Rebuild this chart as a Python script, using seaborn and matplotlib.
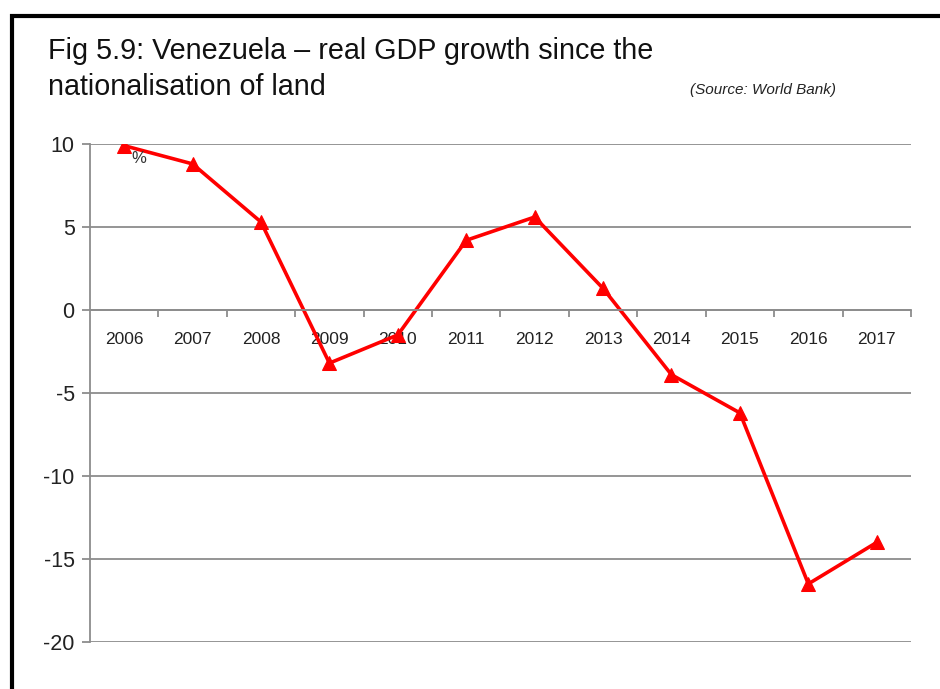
import matplotlib
matplotlib.use("Agg")
import matplotlib.pyplot as plt
from matplotlib.patches import Rectangle
from matplotlib.ticker import FixedLocator, NullFormatter
import seaborn as sns
import pandas as pd

# Annual real GDP growth, %
years = ["2006", "2007", "2008", "2009", "2010", "2011",
         "2012", "2013", "2014", "2015", "2016", "2017"]
growth = [9.9, 8.8, 5.3, -3.2, -1.5, 4.2, 5.6, 1.3, -3.9, -6.2, -16.5, -14.0]
y_ticks = [-20, -15, -10, -5, 0, 5, 10]

sns.set_theme(style="white")
plt.rcParams["font.family"] = ["Liberation Sans", "DejaVu Sans"]

df = pd.DataFrame({"year": years, "growth": growth})

fig = plt.figure(figsize=(9.4, 6.89), dpi=100)
ax = fig.add_axes([0.0957, 0.0682, 0.8734, 0.7228])

sns.lineplot(data=df, x="year", y="growth", ax=ax, color="#ff0000",
             linewidth=2.6, marker="^", markersize=10.5,
             markeredgecolor="#ff0000", markerfacecolor="#ff0000", sort=False)

grid_col = "#8c8c8c"
ax.set_ylim(-20, 10)
ax.set_xlim(-0.5, len(years) - 0.5)
ax.set_yticks(y_ticks)
ax.set_yticklabels([str(v) for v in y_ticks], fontsize=15.5, color="#222222")
for v in y_ticks:
    ax.axhline(v, color=grid_col, linewidth=1.3, zorder=0)

# x axis sits on the zero line with ticks between categories
ax.spines["bottom"].set_position(("data", 0))
ax.spines["bottom"].set_color(grid_col)
ax.spines["bottom"].set_linewidth(1.3)
ax.spines["left"].set_color(grid_col)
ax.spines["left"].set_linewidth(1.3)
ax.spines["top"].set_visible(False)
ax.spines["right"].set_visible(False)

ax.set_xticks(range(len(years)))
ax.set_xticklabels(years, fontsize=12.5, color="#222222",
                   family=["Liberation Sans Narrow", "Liberation Sans"])
ax.tick_params(axis="x", which="major", length=0, pad=16)
ax.xaxis.set_minor_locator(FixedLocator([i + 0.5 for i in range(len(years))]))
ax.xaxis.set_minor_formatter(NullFormatter())
ax.tick_params(axis="x", which="minor", length=5, width=1.3, color=grid_col,
               direction="out", bottom=True)
ax.tick_params(axis="y", length=6, width=1.3, color=grid_col, left=True, pad=5)
ax.set_xlabel("")
ax.set_ylabel("")

ax.text(0.1, 9.1, "%", fontsize=12, color="#333333", ha="left", va="center")

fig.text(48 / 940, 1 - 51 / 689, "Fig 5.9: Venezuela \u2013 real GDP growth since the",
         fontsize=20.7, color="#111111", ha="left", va="center")
fig.text(48 / 940, 1 - 87 / 689, "nationalisation of land",
         fontsize=20.7, color="#111111", ha="left", va="center")
fig.text(690 / 940, 1 - 90 / 689, "(Source: World Bank)",
         fontsize=11, style="italic", color="#222222", ha="left", va="center",
         family=["Liberation Sans Narrow", "Liberation Sans"])

# frame around the figure
fig.patches.append(Rectangle((12 / 940, -0.2), 1.2, 1.2 - 15.5 / 689,
                             transform=fig.transFigure, fill=False,
                             edgecolor="black", linewidth=3, clip_on=False))

fig.savefig("out.png", dpi=100, facecolor="white")
